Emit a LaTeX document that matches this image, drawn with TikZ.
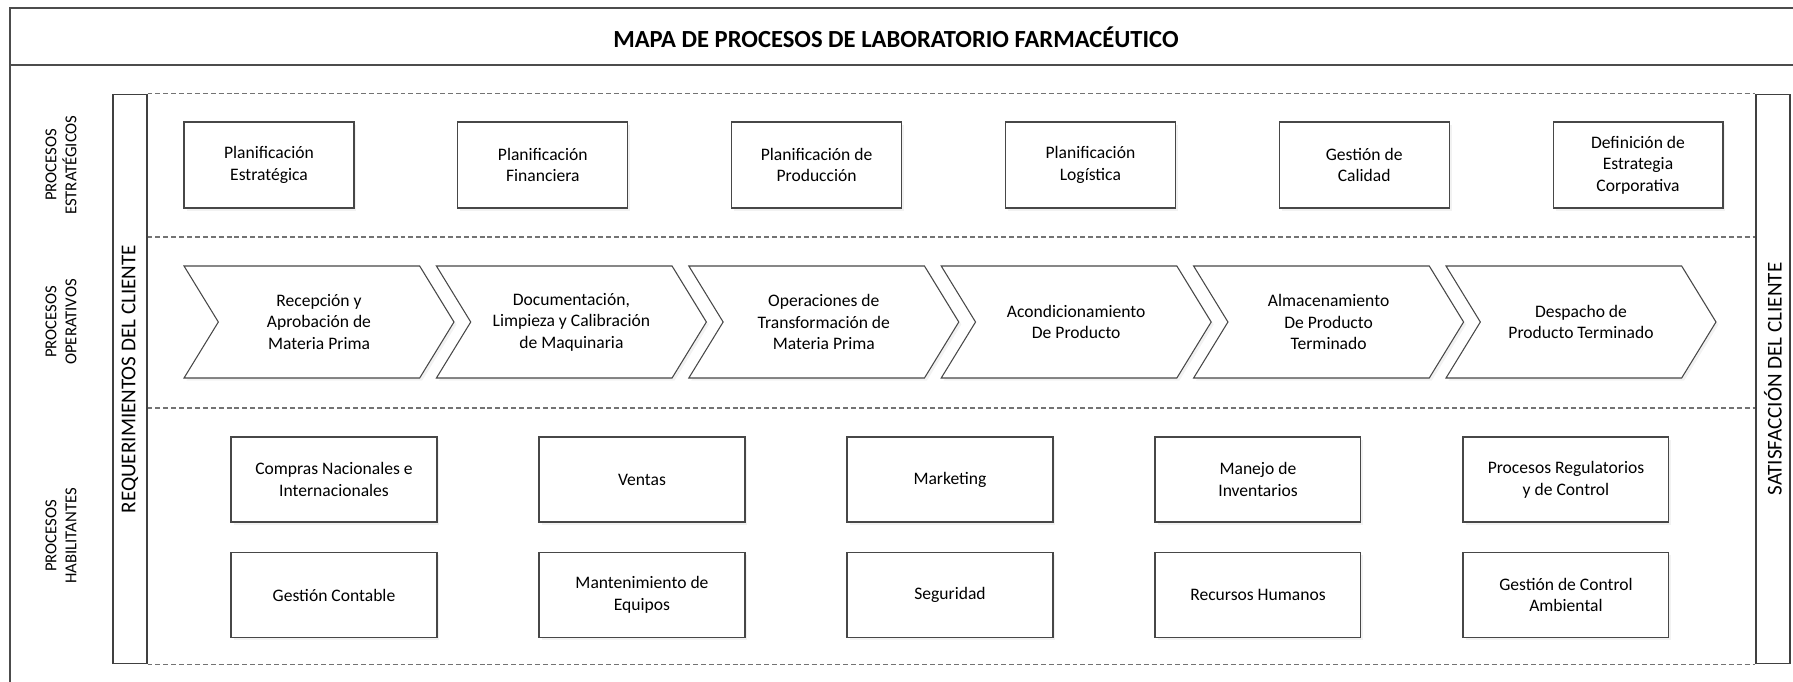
\documentclass[tikz,border=0pt]{standalone}
\usepackage{fontspec}
\setmainfont{Carlito}
\usetikzlibrary{positioning,shapes.symbols,shadows}

\begin{document}
\begin{tikzpicture}[
    x=0.02cm, y=-0.02cm,
    frame/.style={draw=black!70,line width=0.7pt},
    lane/.style={draw=black!55,line width=0.6pt,dash pattern=on 2.8pt off 1.7pt},
    bar/.style={draw=black!75,line width=0.6pt,minimum width=0.68cm,minimum height=11.4cm,inner sep=0pt,font=\fontsize{12}{14}\selectfont},
    lbl/.style={rotate=90,align=center,font=\fontsize{9.5}{11.5}\selectfont},
    box/.style={draw=black!72,fill=white,line width=0.6pt,minimum width=3.4cm,minimum height=1.72cm,align=center,font=\fontsize{10}{12.3}\selectfont,drop shadow={shadow xshift=0.05cm,shadow yshift=-0.05cm,fill=black!10}},
    hbox/.style={box,minimum width=4.12cm,minimum height=1.7cm},
    chev/.style={box,shape=signal,signal from=west,signal to=east,signal pointer angle=117,minimum width=5.4cm,minimum height=2.24cm,inner sep=0pt}
  ]
    \useasboundingbox (0,0) rectangle (1793,681);
    \draw[frame] (10,8) rectangle (1830,720);
    \draw[frame] (10,65) -- (1830,65);
    \node[font=\fontsize{14}{17}\selectfont\bfseries] (title) at (896,37) {MAPA DE PROCESOS DE LABORATORIO FARMACÉUTICO};

    \node[bar] (req) at (130,379) {\rotatebox{90}{REQUERIMIENTOS DEL CLIENTE}};
    \node[bar] (sat) at (1773,379) {\rotatebox{90}{SATISFACCIÓN DEL CLIENTE}};
    \draw[lane] (req.north east) -- (sat.north west);
    \draw[lane] (req.east |- 0,237) -- (sat.west |- 0,237);
    \draw[lane] (req.east |- 0,408) -- (sat.west |- 0,408);
    \draw[lane] (req.south east) -- (sat.south west);

    \node[lbl] (lstr) at (61,165) {PROCESOS\\ESTRATÉGICOS};
    \node[lbl] (lope) at (61,322) {PROCESOS\\OPERATIVOS};
    \node[lbl] (lhab) at (61,536) {PROCESOS\\HABILITANTES};

    % estrategicos
    \node[box] (s1) at (269,165) {Planificación\\Estratégica};
    \node[box,right=2.056cm of s1] (s2) {Planificación\\Financiera};
    \node[box,right=2.056cm of s2] (s3) {Planificación de\\Producción};
    \node[box,right=2.056cm of s3] (s4) {Planificación\\Logística};
    \node[box,right=2.056cm of s4] (s5) {Gestión de\\Calidad};
    \node[box,right=2.056cm of s5] (s6) {Definición de\\Estrategia\\Corporativa};

    % operativos
    \node[chev] (o1) at (319,322) {Recepción y\\Aprobación de\\Materia Prima};
    \node[chev] (o2) at (571.4,322) {Documentación,\\Limpieza y Calibración\\de Maquinaria};
    \node[chev] (o3) at (823.8,322) {Operaciones de\\Transformación de\\Materia Prima};
    \node[chev] (o4) at (1076.2,322) {Acondicionamiento\\De Producto};
    \node[chev] (o5) at (1328.6,322) {Almacenamiento\\De Producto\\Terminado};
    \node[chev] (o6) at (1581,322) {Despacho de\\Producto Terminado};

    % habilitantes
    \node[hbox] (h1) at (334,479.5) {Compras Nacionales e\\Internacionales};
    \node[hbox,right=2.02cm of h1] (h2) {Ventas};
    \node[hbox,right=2.02cm of h2] (h3) {Marketing};
    \node[hbox,right=2.02cm of h3] (h4) {Manejo de\\Inventarios};
    \node[hbox,right=2.02cm of h4] (h5) {Procesos Regulatorios\\y de Control};
    \node[hbox,below=0.59cm of h1] (h6) {Gestión Contable};
    \node[hbox,below=0.59cm of h2] (h7) {Mantenimiento de\\Equipos};
    \node[hbox,below=0.59cm of h3] (h8) {Seguridad};
    \node[hbox,below=0.59cm of h4] (h9) {Recursos Humanos};
    \node[hbox,below=0.59cm of h5] (h10) {Gestión de Control\\Ambiental};
  \end{tikzpicture}
\end{document}
